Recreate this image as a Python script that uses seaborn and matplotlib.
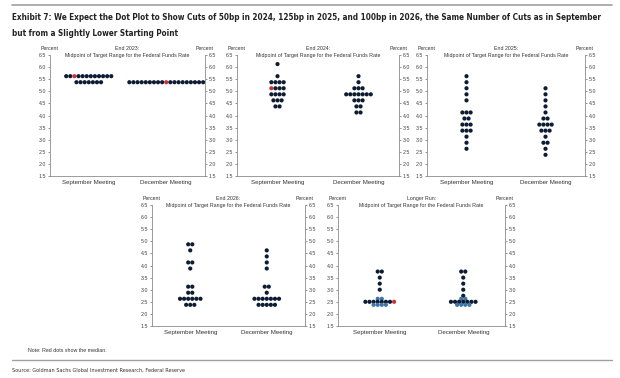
import matplotlib
matplotlib.use("Agg")
import matplotlib.pyplot as plt
from matplotlib.lines import Line2D
import numpy as np
import pandas as pd
import seaborn as sns

# Dot plot data: rate level -> number of participants
meetings = ["September Meeting", "December Meeting"]
panel_titles = ["End 2023:", "End 2024:", "End 2025:", "End 2026:", "Longer Run:"]
subtitle = "Midpoint of Target Range for the Federal Funds Rate"

end2023_sep = {5.625: 12, 5.375: 7}
end2023_dec = {5.375: 19}
end2024_sep = {6.125: 1, 5.625: 1, 5.375: 4, 5.125: 4, 4.875: 4, 4.625: 3, 4.375: 2}
end2024_dec = {5.625: 1, 5.375: 1, 5.125: 3, 4.875: 7, 4.625: 3, 4.375: 2, 4.125: 2}
end2025_sep = {5.625: 1, 5.375: 1, 5.125: 1, 4.875: 1, 4.625: 1, 4.125: 3, 3.875: 2,
               3.625: 3, 3.375: 3, 3.125: 1, 2.875: 1, 2.625: 1}
end2025_dec = {5.125: 1, 4.875: 1, 4.625: 1, 4.375: 1, 4.125: 1, 3.875: 2, 3.625: 4,
               3.375: 3, 3.125: 1, 2.875: 2, 2.625: 1, 2.375: 1}
end2026_sep = {4.875: 2, 4.625: 1, 4.125: 2, 3.875: 1, 3.125: 2, 2.875: 2, 2.625: 6, 2.375: 3}
end2026_dec = {4.625: 1, 4.375: 1, 4.125: 1, 3.875: 1, 3.125: 2, 2.875: 1, 2.625: 7, 2.375: 5}
longer_sep = {3.75: 2, 3.5: 1, 3.25: 1, 3.0: 1, 2.625: 2, 2.5: 8, 2.375: 4}
longer_dec = {3.75: 2, 3.5: 1, 3.25: 1, 3.0: 1, 2.75: 1, 2.625: 2, 2.5: 7, 2.375: 4}

# red (median) dots visible in the chart: (rate, position in row)
red_2023 = [[(5.625, 2)], [(5.375, 9)]]
red_2024 = [[(5.125, 0)], []]
red_longer = [[(2.5, 7)], []]
# rows in the longer run cluster drawn in a lighter blue
blue_rows_longer = [2.625, 2.375]

panels = [
    (end2023_sep, end2023_dec, red_2023, []),
    (end2024_sep, end2024_dec, red_2024, []),
    (end2025_sep, end2025_dec, [[], []], []),
    (end2026_sep, end2026_dec, [[], []], []),
    (longer_sep, longer_dec, red_longer, blue_rows_longer),
]

W, H = 620, 378
# axes boxes in pixels: left, right, top, bottom
boxes = [(50, 205, 55, 176), (237, 399, 55, 176), (427, 585, 55, 176),
         (152, 305, 205, 326), (338, 505, 205, 326)]

sns.set_style("white")
plt.rcParams["font.family"] = ["Liberation Sans", "DejaVu Sans"]

fig = plt.figure(figsize=(W / 100, H / 100), dpi=100)
grey = "#8c8c8c"
colors = {"dot": "#0d1b33", "median": "#c8323c", "blue": "#3f78a8"}

for (sep, dec, reds, blues), title, (x0, x1, y0, y1) in zip(panels, panel_titles, boxes):
    ax = fig.add_axes([x0 / W, 1 - y1 / H, (x1 - x0) / W, (y1 - y0) / H])
    step = 4.1 / ((x1 - x0) / 2.0)  # dot spacing in data units
    rows = []
    for i, col in enumerate([sep, dec]):
        for rate, n in col.items():
            for k in range(n):
                kind = "dot"
                if rate in blues:
                    kind = "blue"
                if (rate, k) in reds[i]:
                    kind = "median"
                rows.append({"x": i + (k - (n - 1) / 2) * step, "rate": rate, "kind": kind})
    df = pd.DataFrame(rows)
    sns.scatterplot(data=df, x="x", y="rate", hue="kind", palette=colors, s=9,
                    edgecolor="none", legend=False, ax=ax)

    ax.set_xlim(-0.5, 1.5)
    ax.set_ylim(1.5, 6.5)
    ax.set_xticks([0, 1])
    ax.set_xticklabels(meetings)
    ticks = np.arange(1.5, 6.51, 0.5)
    ax.set_yticks(ticks)
    ax.set_yticklabels([f"{v:.1f}" for v in ticks])
    ax.set_xlabel("")
    ax.set_ylabel("")
    ax.tick_params(axis="y", left=True, right=True, labelleft=True, labelright=True,
                   labelsize=3.8, length=1.5, width=0.4, pad=1.2, colors="#444444")
    ax.tick_params(axis="x", labelsize=4.4, length=0, pad=3, colors="#333333")
    ax.spines["top"].set_visible(False)
    for s in ["left", "right", "bottom"]:
        ax.spines[s].set_color(grey)
        ax.spines[s].set_linewidth(0.6)

    for xp in (0, 1):
        ax.text(xp, 1.05, "Percent", transform=ax.transAxes, ha="center", va="center",
                fontsize=3.8, color="#333333")
    ax.text(0.5, 1.05, title, transform=ax.transAxes, ha="center", va="center",
            fontsize=3.8, color="#333333")
    ax.text(0.5, 1.0, subtitle, transform=ax.transAxes, ha="center", va="center",
            fontsize=3.8, color="#333333")

# header, notes and source
fig.add_artist(Line2D([12 / W, 612 / W], [1 - 5 / H] * 2, color="#a0a0a0", lw=1.2))
cond = dict(family="DejaVu Sans", fontstretch="condensed")
t1 = fig.text(12 / W, 1 - 18 / H,
              "Exhibit 7: We Expect the Dot Plot to Show Cuts of 50bp in 2024, 125bp in 2025, "
              "and 100bp in 2026, the Same Number of Cuts as in September",
              fontsize=7, fontweight="bold", va="center", color="#222222", **cond)
t2 = fig.text(12 / W, 1 - 33 / H, "but from a Slightly Lower Starting Point",
              fontsize=7, fontweight="bold", va="center", color="#222222", **cond)
fig.text(28 / W, 1 - 351 / H, "Note: Red dots show the median.", fontsize=3.8,
         va="center", color="#333333")
fig.add_artist(Line2D([12 / W, 612 / W], [1 - 360 / H] * 2, color="#a0a0a0", lw=1.0))
src = fig.text(12 / W, 1 - 370 / H,
               "Source: Goldman Sachs Global Investment Research, Federal Reserve",
               fontsize=6, va="center", color="#333333", **cond)

# shrink the heading so that it spans the same width as in the reference
fig.canvas.draw()
r = fig.canvas.get_renderer()
w1 = t1.get_window_extent(r).width
scale = 590 / w1
t1.set_fontsize(7 * scale)
t2.set_fontsize(7 * scale)
ws = src.get_window_extent(r).width
src.set_fontsize(6 * 172 / ws)

fig.savefig("out.png", dpi=100)
